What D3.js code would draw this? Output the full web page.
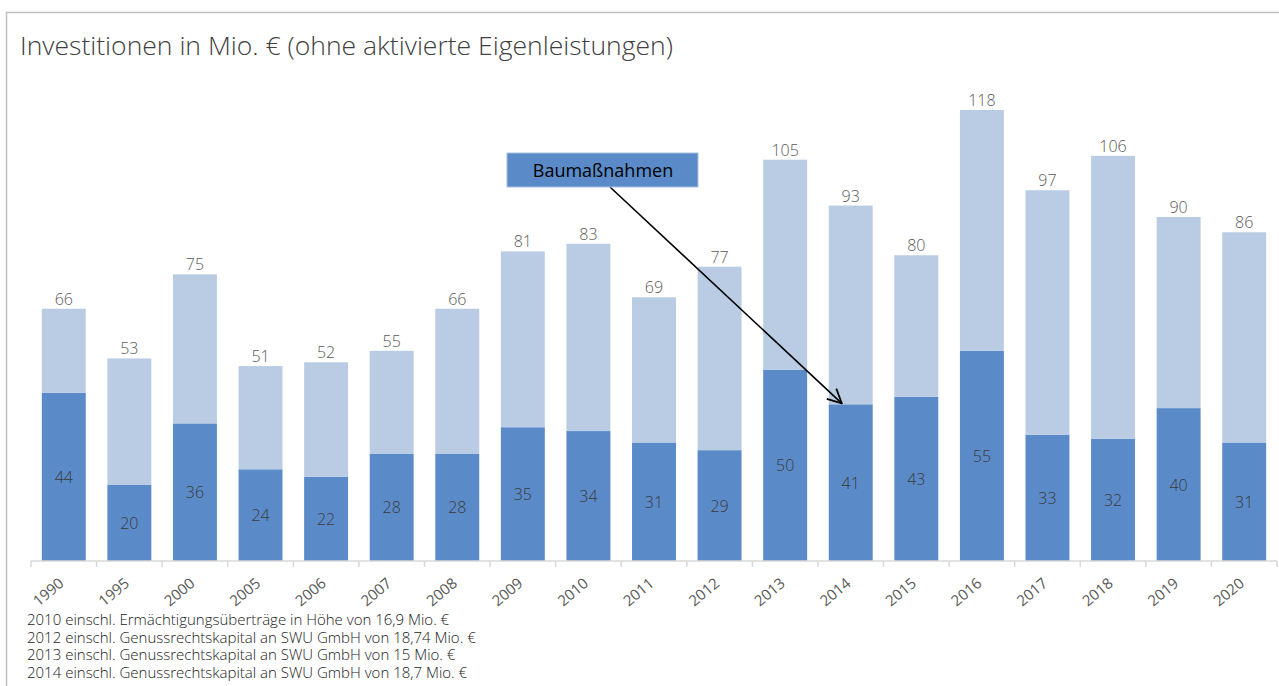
<!DOCTYPE html>
<html>
<head>
<meta charset="utf-8">
<script src="https://cdn.jsdelivr.net/npm/d3@7"></script>
<style>
  body { margin: 0; background: #fff; }
  svg { display: block; font-family: "Open Sans", "Noto Sans", sans-serif; }
</style>
</head>
<body>
<div id="chart"></div>
<script>
// data
var years = ["1990", "1995", "2000", "2005", "2006", "2007", "2008", "2009", "2010", "2011",
             "2012", "2013", "2014", "2015", "2016", "2017", "2018", "2019", "2020"]
var totals = [66, 53, 75, 51, 52, 55, 66, 81, 83, 69, 77, 105, 93, 80, 118, 97, 106, 90, 86]
var bau = [44, 20, 36, 24, 22, 28, 28, 35, 34, 31, 29, 50, 41, 43, 55, 33, 32, 40, 31]
var notes = [
    "2010 einschl. Ermächtigungsüberträge in Höhe von 16,9 Mio. €",
    "2012 einschl. Genussrechtskapital an SWU GmbH von 18,74 Mio. €",
    "2013 einschl. Genussrechtskapital an SWU GmbH von 15 Mio. €",
    "2014 einschl. Genussrechtskapital an SWU GmbH von 18,7 Mio. €"
]

var data = years.map(function (y, i) {
    return { year: y, bau: bau[i], rest: totals[i] - bau[i], total: totals[i] }
})

var width = 1279, height = 686
var svg = d3.select("#chart").append("svg")
    .attr("width", width)
    .attr("height", height)

// frame
svg.append("path")
    .attr("d", "M6.5," + height + "V12.5H" + width)
    .attr("fill", "none")
    .attr("stroke", "#bfbfbf")
    .attr("stroke-width", 1.5)

// title
svg.append("text")
    .attr("x", 20)
    .attr("y", 55)
    .attr("fill", "#404040")
    .style("font-size", "26.5px")
    .style("font-weight", 300)
    .text("Investitionen in Mio. € (ohne aktivierte Eigenleistungen)")

var x = d3.scaleBand()
    .domain(years)
    .range([31, 1277])
    .paddingInner(0.33)
    .paddingOuter(0.165)

var y = d3.scaleLinear()
    .domain([0, 118])
    .range([561, 110])

var stacked = d3.stack().keys(["bau", "rest"])(data)
var color = d3.scaleOrdinal()
    .domain(["bau", "rest"])
    .range(["#5a8bc8", "#b9cce4"])

svg.append("g")
    .selectAll("g")
    .data(stacked)
    .enter().append("g")
    .attr("fill", function (d) { return color(d.key) })
    .selectAll("rect")
    .data(function (d) { return d })
    .enter().append("rect")
    .attr("x", function (d) { return x(d.data.year) })
    .attr("y", function (d) { return y(d[1]) })
    .attr("height", function (d) { return y(d[0]) - y(d[1]) })
    .attr("width", x.bandwidth())

// x axis
var axis = svg.append("g")
    .attr("transform", "translate(0,561)")
axis.append("line")
    .attr("x1", 31).attr("x2", 1277)
    .attr("stroke", "#d9d9d9").attr("stroke-width", 1.5)
var tickPos = years.map(function (d) { return x(d) - x.step() * x.paddingInner() / 2 })
tickPos.push(1277)
axis.selectAll(".tick")
    .data(tickPos)
    .enter().append("line")
    .attr("x1", function (d) { return d }).attr("x2", function (d) { return d })
    .attr("y1", 0).attr("y2", 6)
    .attr("stroke", "#d9d9d9").attr("stroke-width", 1.5)

axis.selectAll(".lbl")
    .data(years)
    .enter().append("text")
    .attr("text-anchor", "end")
    .attr("fill", "#595959")
    .style("font-size", "15px")
    .attr("transform", function (d) {
        return "translate(" + (x(d) + x.bandwidth() / 2 + 1) + ",24) rotate(-40)"
    })
    .text(function (d) { return d })

// value labels
svg.append("g").selectAll("text")
    .data(data)
    .enter().append("text")
    .attr("x", function (d) { return x(d.year) + x.bandwidth() / 2 })
    .attr("y", function (d) { return y(d.total) - 4 })
    .attr("text-anchor", "middle")
    .attr("fill", "#595959")
    .style("font-size", "16px")
    .style("font-weight", 300)
    .text(function (d) { return d.total })

svg.append("g").selectAll("text")
    .data(data)
    .enter().append("text")
    .attr("x", function (d) { return x(d.year) + x.bandwidth() / 2 })
    .attr("y", function (d) { return (y(d.bau) + y(0)) / 2 + 6 })
    .attr("text-anchor", "middle")
    .attr("fill", "#3a3a3a")
    .style("font-size", "16px")
    .style("font-weight", 300)
    .text(function (d) { return d.bau })

// legend box with arrow
var tip = { x: x("2014") + 13, y: y(bau[12]) - 1 }
svg.append("defs").append("marker")
    .attr("id", "arr")
    .attr("viewBox", "0 0 16 16")
    .attr("refX", 15).attr("refY", 8)
    .attr("markerWidth", 16).attr("markerHeight", 16)
    .attr("markerUnits", "userSpaceOnUse")
    .attr("orient", "auto")
    .append("path")
    .attr("d", "M1,1L15,8L1,15")
    .attr("fill", "none")
    .attr("stroke", "#000")
    .attr("stroke-width", 1.8)

svg.append("line")
    .attr("x1", 610).attr("y1", 187)
    .attr("x2", tip.x).attr("y2", tip.y)
    .attr("stroke", "#000")
    .attr("stroke-width", 1.6)
    .attr("marker-end", "url(#arr)")

svg.append("rect")
    .attr("x", 507).attr("y", 153)
    .attr("width", 191).attr("height", 34)
    .attr("fill", "#5a8bc8")
    .attr("stroke", "#a9c0e0")
svg.append("text")
    .attr("x", 603).attr("y", 177)
    .attr("text-anchor", "middle")
    .attr("fill", "#000")
    .style("font-size", "18px")
    .text("Baumaßnahmen")

// footnotes
svg.append("g").selectAll("text")
    .data(notes)
    .enter().append("text")
    .attr("x", 27)
    .attr("y", function (d, i) { return 625 + i * 17.7 })
    .attr("fill", "#1a1a1a")
    .style("font-size", "15px")
    .style("font-weight", 300)
    .text(function (d) { return d })
</script>
</body>
</html>
